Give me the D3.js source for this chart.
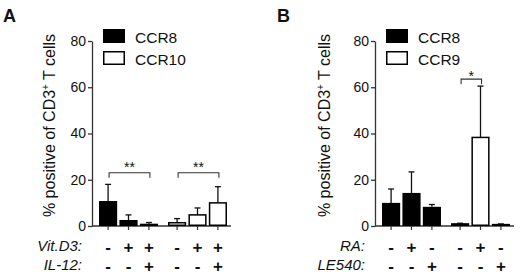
<!DOCTYPE html>
<html><head><meta charset="utf-8">
<script src="https://cdn.jsdelivr.net/npm/d3@7"></script>
<style>
html,body{margin:0;padding:0;background:#fff;}
svg{display:block;font-family:"Liberation Sans",Arial,sans-serif;}
</style></head>
<body>
<svg id="chart" width="520" height="278"></svg>
<script>
// ---------- data ----------
const yTicks = [0, 20, 40, 60, 80];
const yTitle = "% positive of CD3";
const conditions = ["c1", "c2", "c3"];

// Panel A
const seriesA = ["CCR8", "CCR10"];
const ccr8A = [10.8, 2.6, 1.0];
const ccr8AErr = [7.2, 2.2, 0.5];
const ccr10A = [1.4, 4.8, 10.0];
const ccr10AErr = [1.8, 3.0, 7.0];
const rowLabelsA = ["Vit.D3:", "IL-12:"];
const row1A = ["-", "+", "+", "-", "+", "+"];
const row2A = ["-", "-", "+", "-", "-", "+"];
const sigA = [
  {group: 0, from: 0, to: 2, level: 23, label: "**"},
  {group: 1, from: 0, to: 2, level: 23, label: "**"}
];

// Panel B
const seriesB = ["CCR8", "CCR9"];
const ccr8B = [10.0, 14.3, 8.3];
const ccr8BErr = [6.0, 9.1, 1.0];
const ccr9B = [0.9, 38.3, 0.6];
const ccr9BErr = [0.3, 22.2, 0.3];
const rowLabelsB = ["RA:", "LE540:"];
const row1B = ["-", "+", "-", "-", "+", "-"];
const row2B = ["-", "-", "+", "-", "-", "+"];
const sigB = [
  {group: 1, from: 0, to: 1, level: 63.5, label: "*"}
];

// ---------- drawing ----------
const svg = d3.select("#chart");
const font = '"Liberation Sans",Arial,sans-serif';
const ink = "#111";

function panel(opt) {
  const g = svg.append("g").attr("transform", `translate(${opt.dx},0)`);
  const y = d3.scaleLinear().domain([0, 80]).range([226, 41]);
  const axisX = 92;
  const xg = d3.scaleBand().domain(opt.series).range([98, 228]).paddingInner(0.116).paddingOuter(0);
  const xi = d3.scaleBand().domain(conditions).range([0, xg.bandwidth()]).paddingInner(0.11).paddingOuter(0.05);

  // panel letter
  g.append("text").attr("x", opt.letterX).attr("y", 22)
    .attr("font-size", 18).attr("font-weight", "bold").attr("fill", ink).text(opt.letter);

  // y axis
  const ya = g.append("g").attr("transform", `translate(${axisX},0)`)
    .call(d3.axisLeft(y).tickValues(yTicks).tickSize(4).tickSizeOuter(0).tickPadding(2));
  ya.selectAll("path,line").attr("stroke", "#333").attr("stroke-width", 1.3);
  ya.selectAll("text").attr("font-size", 14).attr("font-family", font).attr("fill", ink);

  // y title
  const t = g.append("text")
    .attr("transform", `translate(${opt.titleX},125.5) rotate(-90)`)
    .attr("text-anchor", "middle").attr("font-size", 16).attr("fill", ink);
  t.append("tspan").text(yTitle);
  t.append("tspan").attr("dy", -6).attr("font-size", 10).text("+");
  t.append("tspan").attr("dy", 6).text(" T cells");

  // x baseline
  g.append("line").attr("x1", axisX).attr("x2", xg.range()[1] + 3)
    .attr("y1", y(0)).attr("y2", y(0)).attr("stroke", "#333").attr("stroke-width", 1.3);

  const data = [];
  opt.series.forEach((s, si) => {
    conditions.forEach((c, ci) => {
      data.push({s, si, c, ci, v: opt.values[si][ci], e: opt.errs[si][ci],
        x: xg(s) + xi(c), idx: si * 3 + ci});
    });
  });
  const bw = xi.bandwidth();

  // ticks at bar centers
  g.selectAll(".xt").data(data).join("line")
    .attr("x1", d => d.x + bw / 2).attr("x2", d => d.x + bw / 2)
    .attr("y1", y(0)).attr("y2", y(0) + 4).attr("stroke", "#333").attr("stroke-width", 1.2);

  // error bars
  g.selectAll(".err").data(data).join("line")
    .attr("x1", d => d.x + bw / 2).attr("x2", d => d.x + bw / 2)
    .attr("y1", d => y(d.v)).attr("y2", d => y(d.v + d.e)).attr("stroke", ink).attr("stroke-width", 1.3);
  g.selectAll(".cap").data(data).join("line")
    .attr("x1", d => d.x + bw / 2 - 3).attr("x2", d => d.x + bw / 2 + 3)
    .attr("y1", d => y(d.v + d.e)).attr("y2", d => y(d.v + d.e)).attr("stroke", ink).attr("stroke-width", 1.3);

  // bars
  g.selectAll(".bar").data(data).join("rect")
    .attr("x", d => d.x + (d.si ? 0.75 : 0)).attr("width", d => bw - (d.si ? 1.5 : 0))
    .attr("y", d => y(d.v)).attr("height", d => Math.max(0.01, y(0) - y(d.v) - (d.si ? 0.75 : 0)))
    .attr("fill", d => d.si ? "#fff" : "#000")
    .attr("stroke", "#000").attr("stroke-width", d => d.si ? 1.5 : 0);

  // significance brackets
  opt.sig.forEach(b => {
    const x1 = xg(opt.series[b.group]) + xi(conditions[b.from]) + bw / 2 + 1;
    const x2 = xg(opt.series[b.group]) + xi(conditions[b.to]) + bw / 2 + 1;
    const yy = y(b.level);
    g.append("path").attr("d", `M${x1},${yy + 5}V${yy}H${x2}V${yy + 5}`)
      .attr("fill", "none").attr("stroke", "#333").attr("stroke-width", 1.1);
    g.append("text").attr("x", (x1 + x2) / 2).attr("y", yy + opt.starDy)
      .attr("text-anchor", "middle").attr("font-size", 14).attr("fill", ink).text(b.label);
  });

  // legend
  opt.series.forEach((s, i) => {
    g.append("rect").attr("x", 103.75).attr("y", 29.75 + i * 22).attr("width", 20.5).attr("height", 12.5)
      .attr("fill", i ? "#fff" : "#000").attr("stroke", "#000").attr("stroke-width", 1.5);
    g.append("text").attr("x", 135).attr("y", 43 + i * 22).attr("font-size", 15.5).attr("fill", ink).text(s);
  });

  // condition rows
  const rows = [opt.row1, opt.row2];
  rows.forEach((r, ri) => {
    const yy = 251 + ri * 19;
    g.append("text").attr("x", 82).attr("y", yy).attr("text-anchor", "end")
      .attr("font-size", 15).attr("font-style", "italic").attr("fill", ink).text(opt.rowLabels[ri]);
    g.selectAll(null).data(data).join("text")
      .attr("x", d => d.x + bw / 2).attr("y", yy + 1.5).attr("text-anchor", "middle")
      .attr("font-size", 17).attr("font-weight", "bold").attr("fill", ink).text(d => r[d.idx]);
  });
}

panel({dx: 0, letter: "A", letterX: 3 , titleX: 55, series: seriesA,
  values: [ccr8A, ccr10A], errs: [ccr8AErr, ccr10AErr], sig: sigA, starDy: -1,
  row1: row1A, row2: row2A, rowLabels: rowLabelsA});
panel({dx: 283, letter: "B", letterX: -6, titleX: 47, series: seriesB,
  values: [ccr8B, ccr9B], errs: [ccr8BErr, ccr9BErr], sig: sigB, starDy: 2,
  row1: row1B, row2: row2B, rowLabels: rowLabelsB});
</script>
</body></html>
